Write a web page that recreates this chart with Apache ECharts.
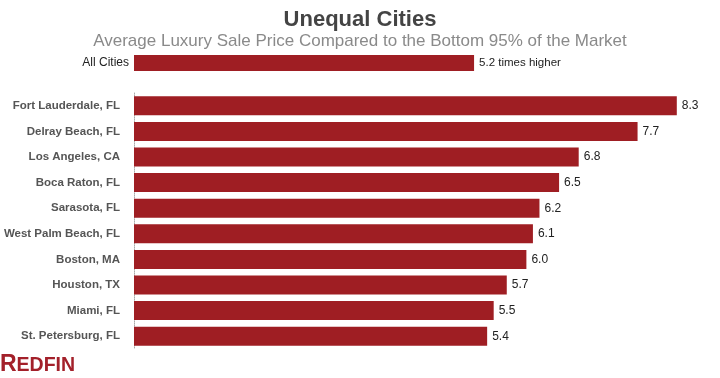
<!DOCTYPE html>
<html><head><meta charset="utf-8">
<script src="https://cdn.jsdelivr.net/npm/echarts@6/dist/echarts.min.js"></script>
<style>html,body{margin:0;padding:0;background:#fff}#c{width:720px;height:378px}</style>
</head><body><div id="c"></div>
<script>
var overallCategory = ['All Cities'];
var overallValues = [5.2];
var cities = ['Fort Lauderdale, FL','Delray Beach, FL','Los Angeles, CA','Boca Raton, FL','Sarasota, FL','West Palm Beach, FL','Boston, MA','Houston, TX','Miami, FL','St. Petersburg, FL'];
var cityValues = [8.3, 7.7, 6.8, 6.5, 6.2, 6.1, 6.0, 5.7, 5.5, 5.4];

var RED = '#9f1e23';
var chart = echarts.init(document.getElementById('c'));
chart.setOption({
  animation: false,
  backgroundColor: '#fff',
  title: [{
    text: 'Unequal Cities', left: 'center', top: 4,
    textStyle: {fontFamily: 'Liberation Sans, Arial', fontWeight: 'bold', fontSize: 22, color: '#444'}
  }, {
    text: 'Average Luxury Sale Price Compared to the Bottom 95% of the Market', left: 'center', top: 28,
    textStyle: {fontFamily: 'Liberation Sans, Arial', fontWeight: 'normal', fontSize: 17, color: '#8a8a8a'}
  }],
  grid: [
    {left: 134, right: 10.5, top: 54, height: 18, containLabel: false, outerBoundsMode: 'none'},
    {left: 134, right: 10.5, top: 93, height: 256, containLabel: false, outerBoundsMode: 'none'}
  ],
  xAxis: [
    {gridIndex: 0, type: 'value', min: 0, max: 8.8, show: false},
    {gridIndex: 1, type: 'value', min: 0, max: 8.8, show: false}
  ],
  yAxis: [
    {gridIndex: 0, type: 'category', data: overallCategory, inverse: true,
     axisLine: {show: false}, axisTick: {show: false},
     axisLabel: {margin: 5, fontFamily: 'Liberation Sans, Arial', fontSize: 12, color: '#222'}},
    {gridIndex: 1, type: 'category', data: cities, inverse: true,
     axisLine: {show: true, lineStyle: {color: '#aaa', type: 'dotted', width: 1}}, axisTick: {show: false},
     axisLabel: {margin: 14, fontFamily: 'Liberation Sans, Arial', fontWeight: 'bold', fontSize: 11.5, color: '#555'}}
  ],
  series: [
    {type: 'bar', xAxisIndex: 0, yAxisIndex: 0, data: overallValues, barWidth: 16,
     itemStyle: {color: RED},
     label: {show: true, position: 'right', distance: 5, fontFamily: 'Liberation Sans, Arial', fontSize: 11.5, color: '#222',
       formatter: function (p) { return p.value.toFixed(1) + ' times higher'; }}},
    {type: 'bar', xAxisIndex: 1, yAxisIndex: 1, data: cityValues, barWidth: 19,
     itemStyle: {color: RED},
     label: {show: true, position: 'right', distance: 5, fontFamily: 'Liberation Sans, Arial', fontSize: 12, color: '#222',
       formatter: function (p) { return p.value.toFixed(1); }}}
  ],
  graphic: [{
    type: 'text', left: 0, top: 353,
    style: {
      text: '{a|R}{b|EDFIN}',
      rich: {
        a: {fontFamily: 'Liberation Sans, Arial', fontWeight: 'bold', fontSize: 23, fill: '#a3202a', verticalAlign: 'bottom'},
        b: {fontFamily: 'Liberation Sans, Arial', fontWeight: 'bold', fontSize: 19.5, fill: '#a3202a', verticalAlign: 'bottom'}
      }
    }
  }]
});
</script></body></html>
